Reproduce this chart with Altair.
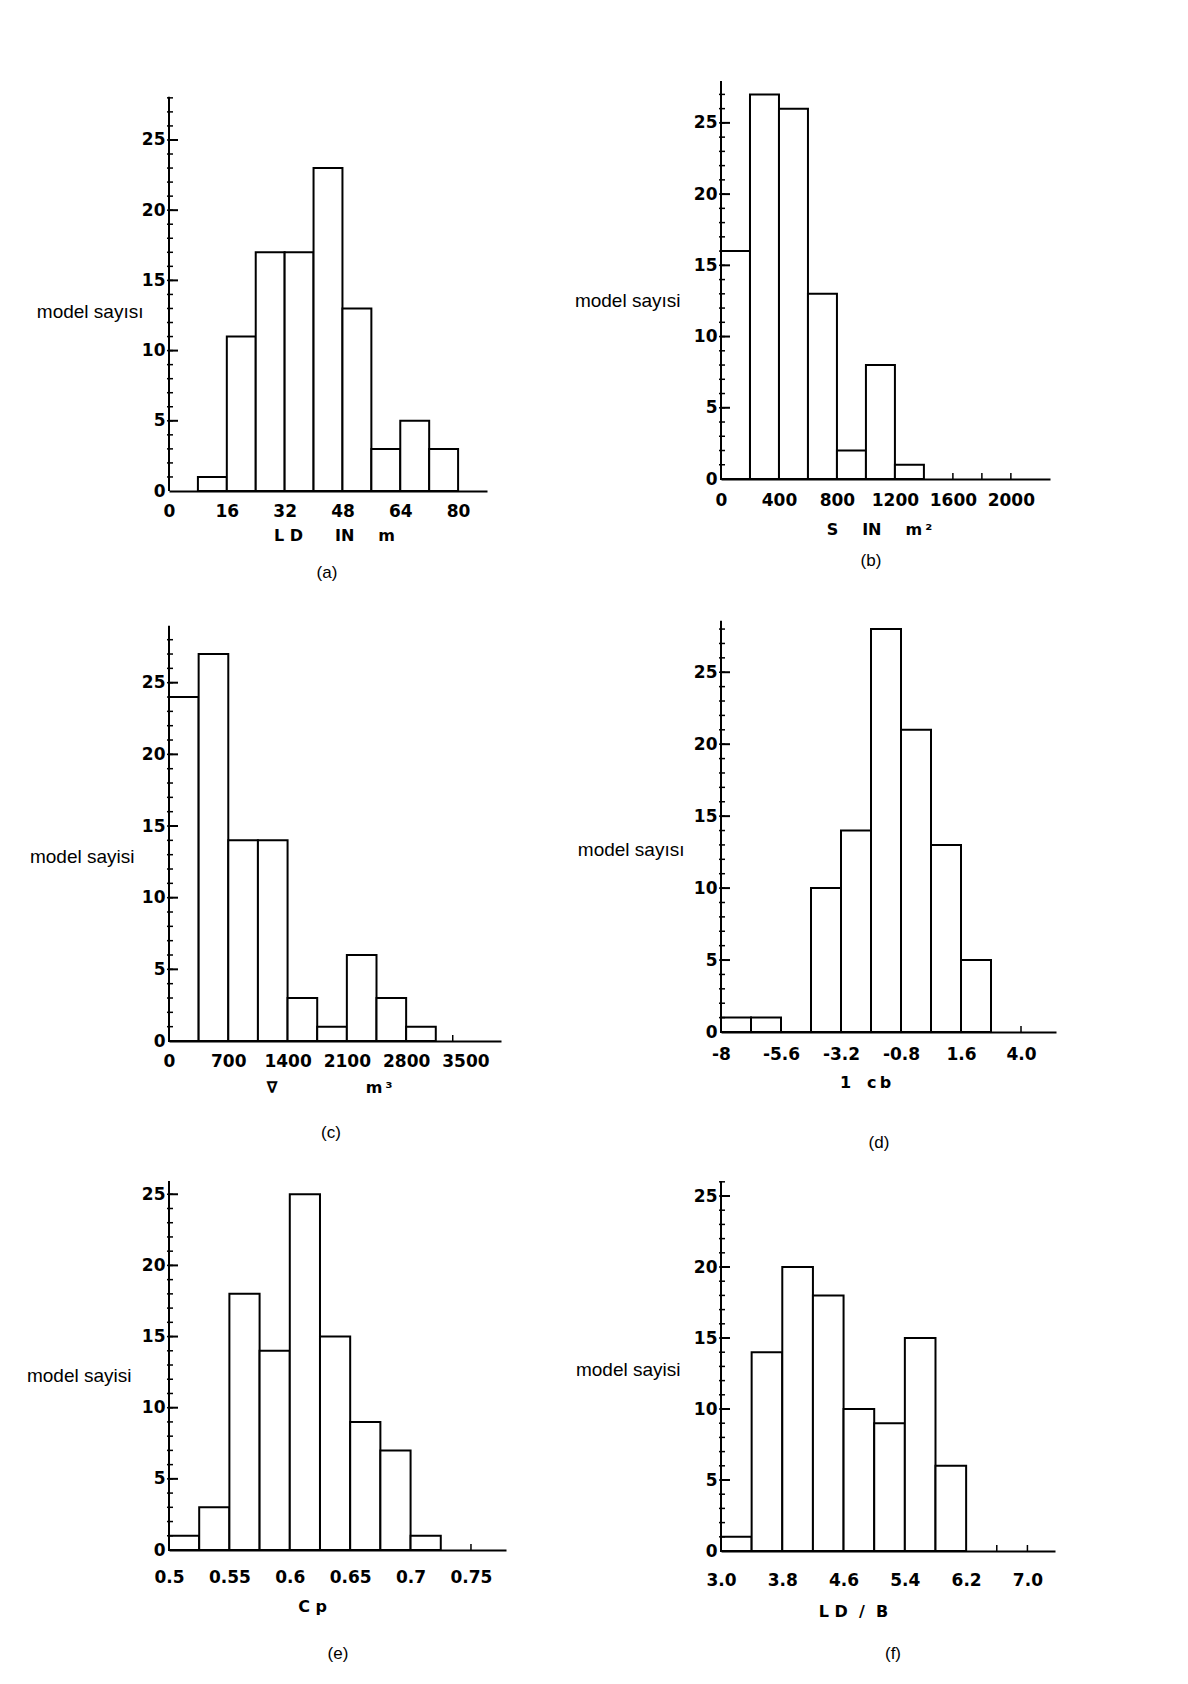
import altair as alt
import pandas as pd

# ---------------- data ----------------
# (a) Ld in m
A_EDGES = [8, 16, 24, 32, 40, 48, 56, 64, 72, 80]
A_COUNTS = [1, 11, 17, 17, 23, 13, 3, 5, 3]
A_TICKS = [0, 16, 32, 48, 64, 80]
A_MARKS = []

# (b) S in m2
B_EDGES = [0, 200, 400, 600, 800, 1000, 1200, 1400]
B_COUNTS = [16, 27, 26, 13, 2, 8, 1]
B_TICKS = [0, 400, 800, 1200, 1600, 2000]
B_MARKS = [1600, 1800, 2000]

# (c) displacement in m3
C_EDGES = [0, 350, 700, 1050, 1400, 1750, 2100, 2450, 2800, 3150]
C_COUNTS = [24, 27, 14, 14, 3, 1, 6, 3, 1]
C_TICKS = [0, 700, 1400, 2100, 2800, 3500]
C_MARKS = [3350]

# (d) lcb
D_EDGES = [-8, -6.8, -5.6, -4.4, -3.2, -2.0, -0.8, 0.4, 1.6, 2.8]
D_COUNTS = [1, 1, 0, 10, 14, 28, 21, 13, 5]
D_TICKS = [-8, -5.6, -3.2, -0.8, 1.6, 4.0]
D_MARKS = [4.0]

# (e) Cp
E_EDGES = [0.5, 0.525, 0.55, 0.575, 0.6, 0.625, 0.65, 0.675, 0.7, 0.725]
E_COUNTS = [1, 3, 18, 14, 25, 15, 9, 7, 1]
E_TICKS = [0.5, 0.55, 0.6, 0.65, 0.7, 0.75]
E_MARKS = [0.75]

# (f) Ld / B
F_EDGES = [3.0, 3.4, 3.8, 4.2, 4.6, 5.0, 5.4, 5.8, 6.2]
F_COUNTS = [1, 14, 20, 18, 10, 9, 15, 6]
F_TICKS = [3.0, 3.8, 4.6, 5.4, 6.2, 7.0]
F_MARKS = [6.6, 7.0]

Y_TICKS = [0, 5, 10, 15, 20, 25]
EM = "\u2003"
EN = "\u2002"
THIN = "\u2009"
NB = "\u00a0"

LABEL_FONT = "DejaVu Sans"
TEXT_FONT = "Liberation Sans"


def panel(edges, counts, xticks, marks, label_expr, xdom, ytop_axis, ytop_plot, w, h,
          ytitle, ytitle_x, ytitle_y, xtitle, xtitle_x, xtitle_y, lab_pad,
          caption, cap_dx, cap_off):
    bars = pd.DataFrame({"x0": edges[:-1], "x1": edges[1:], "n": counts})
    xs = alt.Scale(domain=xdom, nice=False, zero=False)
    ys = alt.Scale(domain=[0, ytop_plot], nice=False, zero=True)

    xaxis = alt.Axis(values=xticks, labelExpr=label_expr, title=xtitle,
                     grid=False, ticks=False, tickSize=0,
                     domainColor="black", domainWidth=2,
                     labelPadding=lab_pad, labelFlush=False, labelOverlap=False,
                     labelFont=LABEL_FONT, labelFontSize=17, labelFontWeight="bold",
                     labelColor="black",
                     titleFont=LABEL_FONT, titleFontSize=16, titleFontWeight="bold",
                     titleColor="black",
                     titleX=xtitle_x, titleY=xtitle_y,
                     titleAlign="center", titleBaseline="middle")
    yaxis = alt.Axis(values=Y_TICKS, format="d", title=ytitle,
                     grid=False, ticks=False, tickSize=0, domain=False,
                     labelPadding=4, labelOverlap=False,
                     labelFont=LABEL_FONT, labelFontSize=17, labelFontWeight="bold",
                     labelColor="black",
                     titleFont=TEXT_FONT, titleFontSize=19, titleFontWeight="normal",
                     titleColor="black", titleAngle=0,
                     titleX=ytitle_x, titleY=ytitle_y,
                     titleAlign="right", titleBaseline="middle")

    base = alt.Chart(bars).mark_rect(fill="white", stroke="black", strokeWidth=2).encode(
        x=alt.X("x0:Q", scale=xs, axis=xaxis),
        x2="x1:Q",
        y=alt.Y("n:Q", scale=ys, axis=yaxis),
        y2=alt.datum(0),
    )

    # vertical axis line from 0 up to the top of the drawn axis
    ax_df = pd.DataFrame({"lo": [0], "hi": [ytop_axis]})
    axis_line = alt.Chart(ax_df).mark_rule(color="black", strokeWidth=2).encode(
        y=alt.Y("lo:Q", scale=ys, axis=None), y2="hi:Q", x=alt.value(0),
    )

    minor_df = pd.DataFrame({"v": list(range(1, int(ytop_axis) + 1))})
    minor = alt.Chart(minor_df).mark_rule(color="black", strokeWidth=1.5).encode(
        y=alt.Y("v:Q", scale=ys, axis=None),
        x=alt.value(-2), x2=alt.value(4),
    )
    major_df = pd.DataFrame({"v": Y_TICKS[1:]})
    major = alt.Chart(major_df).mark_rule(color="black", strokeWidth=2).encode(
        y=alt.Y("v:Q", scale=ys, axis=None),
        x=alt.value(0), x2=alt.value(9),
    )
    layers = [base, axis_line, minor, major]
    if marks:
        mk_df = pd.DataFrame({"m": marks})
        mk = alt.Chart(mk_df).mark_rule(color="black", strokeWidth=1.5).encode(
            x=alt.X("m:Q", scale=xs, axis=None),
            y=alt.value(h), y2=alt.value(h - 6),
        )
        layers.append(mk)

    return alt.layer(*layers).resolve_axis(x="independent", y="independent").properties(
        width=w, height=h,
        title=alt.TitleParams(caption, orient="bottom", frame="group", anchor="middle",
                              dx=cap_dx, offset=cap_off, font=TEXT_FONT, fontSize=17,
                              fontWeight="normal", color="black"),
    )


INT_FMT = "format(datum.value, 'd')"

pa = panel(A_EDGES, A_COUNTS, A_TICKS, A_MARKS, INT_FMT,
           [0, 88], 28.07, 29.2, 318, 410,
           "model sayısı", -26, 230,
           "L" + NB + "D" + EM + EM + "IN" + EM + EN + "m", 165, 44, 12.5,
           "(a)", -1, 22)
pb = panel(B_EDGES, B_COUNTS, B_TICKS, B_MARKS, INT_FMT,
           [0, 2270], 27.94, 27.94, 329, 398,
           "model sayısi", -41, 219,
           "S" + EM + EN + "IN" + EM + EN + "m" + THIN + "²", 158, 50, 13,
           "(b)", -14.5, 16)
pc = panel(C_EDGES, C_COUNTS, C_TICKS, C_MARKS, INT_FMT,
           [0, 3920], 28.97, 30.7, 332, 440,
           "model sayisi", -35, 255,
           "∇" + EM * 5 + EN + "m" + THIN + "³", 160, 46, 12,
           "(c)", -4, 30)
pd_ = panel(D_EDGES, D_COUNTS, D_TICKS, D_MARKS,
            "datum.value == -8 ? '-8' : replace(format(datum.value, '.1f'), '\u2212', '-')",
            [-8, 5.4], 28.57, 29.95, 335, 431,
            "model sayısı", -37, 248,
            "1" + EM + "c" + THIN + "b", 144, 50, 14,
            "(d)", -9.5, 45)
pe = panel(E_EDGES, E_COUNTS, E_TICKS, E_MARKS, "format(datum.value, '~g')",
           [0.5, 0.779], 25.94, 28.04, 337, 399,
           "model sayisi", -38, 224,
           "C" + NB + "p", 143, 56, 19,
           "(e)", 0.5, 32)
pf = panel(F_EDGES, F_COUNTS, F_TICKS, F_MARKS, "format(datum.value, '.1f')",
           [3.0, 7.36], 26.06, 28.17, 334, 400,
           "model sayisi", -41, 218,
           "L" + NB + "D" + NB + NB + "/" + NB + NB + "B", 132, 60, 21,
           "(f)", 5, 27)

chart = alt.concat(
    pa, pb, pc, pd_, pe, pf,
    columns=2,
    spacing={"row": 110, "column": 215},
    bounds="flush",
).properties(
    padding={"left": 26, "top": 80, "right": 5, "bottom": 5},
    background="white",
).configure_view(stroke=None)

chart.save("out.html", embed_options={"renderer": "svg", "actions": False})
